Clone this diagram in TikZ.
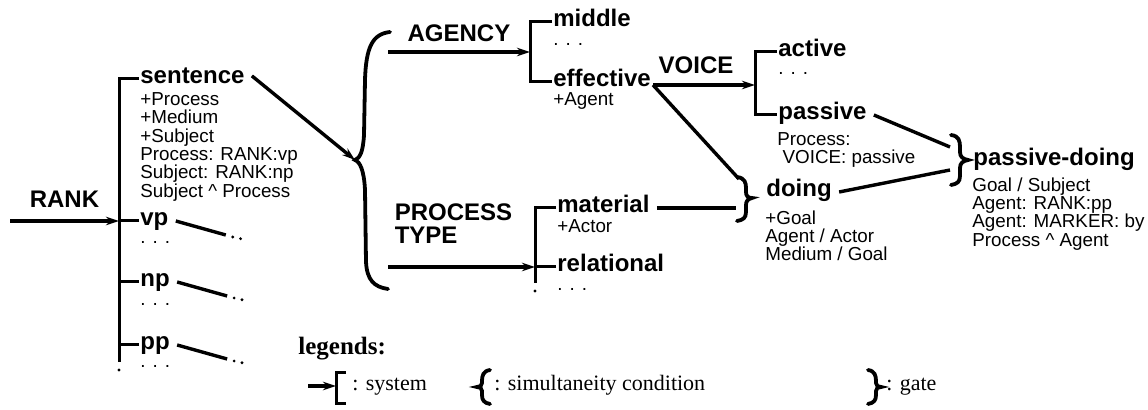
\documentclass[tikz,border=0pt]{standalone}
\usepackage{fontspec}
\setmainfont{Liberation Serif}
\setsansfont{Liberation Sans}
\usetikzlibrary{positioning, arrows.meta}
\newcommand{\labfont}{\sffamily\bfseries\fontsize{12}{11.5}\selectfont}
\newcommand{\subfont}{\sffamily\fontsize{9.4}{9.2}\selectfont}
\tikzset{x=0.5pt, y=-0.5pt, % one unit is one pixel, y grows downwards
>={Stealth[length=6.5pt, width=4.2pt]}, % narrow filled arrow heads
sys/.style={line width=1.5pt}, % the bar of a system
link/.style={line width=1.7pt}, % entry lines and gate lines
brace/.style={line width=1.9pt, line cap=round}, % hand drawn braces
dots/.style={line width=1.6pt, line cap=round, dash pattern=on 0pt off 4pt},
feat/.style={font=\labfont, inner sep=0.5pt, anchor=mid west}, % a feature
sub/.style={font=\subfont, inner sep=0pt, align=left, anchor=north west}, % its realisation
more/.style={font=\subfont, inner sep=0pt, anchor=base west}, % the dots below
sysname/.style={font=\labfont, inner sep=1pt, midway}, % name of a system
legtext/.style={font=\fontsize{11}{13}\selectfont, inner sep=0pt, anchor=base west},
}

\begin{document}
\begin{tikzpicture}
\useasboundingbox (0,0) rectangle (1148,410);

% RANK
\coordinate (rankin) at (10,221);
\coordinate (rankbar) at (119,221);
\coordinate (rankbot) at (119,362);
\node[feat] (sentence) at (139,79) {sentence};
\node[feat] (vp) at (139,221) {vp};
\node[feat] (np) at (139,282) {np};
\node[feat] (pp) at (139,345) {pp};
\node[sub] (sentinfo) at (140,92) {+Process\\+Medium\\+Subject\\Process: RANK:vp\\Subject: RANK:np\\Subject \textasciicircum\ Process};
\node[more] (vpmore) at (140,244) {. . .};
\node[more] (npmore) at (140,306) {. . .};
\node[more] (ppmore) at (140,368) {. . .};

\draw[sys] (sentence.mid west) -| (rankbot);
\draw[dots] ([yshift=-4pt]rankbot) -- ++(0,6);
\draw[sys] (vp.mid west) -- (rankbar);
\draw[sys] (np.mid west) -- (np.mid west -| rankbar);
\draw[sys] (pp.mid west) -- (pp.mid west -| rankbar);
\draw[link,->] (rankin) -- (rankbar) node[sysname, above=5pt] {RANK};

\foreach \r in {vp,np,pp} {
  \draw[link] ([xshift=3pt]\r.mid east) -- ++(50,14) coordinate (\r next);
  \draw[dots] ([shift={(7,2)}]\r next) -- ++(9,2);
}

% simultaneity of AGENCY and PROCESS TYPE
\coordinate (simtip) at (355,160);
\draw[brace] (390,32) .. controls (372,34) and (366,48) .. (365,80) -- (364,135)
  .. controls (363,152) and (360,158) .. (simtip)
  .. controls (360,162) and (364,170) .. (365,190) -- (366,262)
  .. controls (367,280) and (374,287) .. (388,289);
\draw[link,->] ([xshift=3pt]sentence.east) -- (simtip);

% AGENCY
\coordinate (agencyin) at (388,52);
\coordinate (agencybar) at (530,52);
\node[feat] (middle) at (552,22) {middle};
\node[feat] (effective) at (552,82) {effective};
\node[more] (middlemore) at (553,46) {. . .};
\node[sub] (effinfo) at (553,92) {+Agent};
\draw[sys] (middle.mid west) -| (effective.mid west -| agencybar) -- (effective.mid west);
\draw[link,->] (agencyin) -- (agencybar) node[sysname, above=3.5pt] {AGENCY};

% VOICE
\coordinate (effout) at (653,85);
\coordinate (voicebar) at (755,85);
\node[feat] (active) at (777,52) {active};
\node[feat] (passive) at (777,115) {passive};
\node[more] (activemore) at (778,75) {. . .};
\node[sub] (passinfo) at (777,132) {Process:\\\ VOICE: passive};
\draw[sys] (active.mid west) -| (passive.mid west -| voicebar) -- (passive.mid west);
\draw[link,->] (effout) -- (voicebar) node[sysname, above=4pt, xshift=-4pt] {VOICE};

% PROCESS TYPE
\coordinate (ptin) at (388,267);
\coordinate (ptbar) at (535,267);
\coordinate (ptbot) at (535,283);
\node[feat] (material) at (556,208) {material};
\node[feat] (relational) at (556,267) {relational};
\node[sub] (matinfo) at (557,219) {+Actor};
\node[more] (relmore) at (557,291) {. . .};
\draw[sys] (material.mid west) -| (ptbot);
\draw[dots] ([yshift=-4pt]ptbot) -- ++(0,6);
\draw[sys] (relational.mid west) -- (ptbar);
\draw[link,->] (ptin) -- (ptbar) node[sysname, align=left, above=10pt, xshift=-4pt] {PROCESS\\TYPE};

% gate: doing
\coordinate (doingtip) at (752,198);
\coordinate (doingtop) at (739,179);
\coordinate (doinglow) at (736,208);
\draw[brace] (737,177) .. controls (745,178) and (746,183) .. (746,188) -- (746,192)
  .. controls (746,196) and (748,198) .. (doingtip)
  .. controls (748,199) and (746,201) .. (746,205) -- (746,212)
  .. controls (746,218) and (743,220) .. (737,221);
\node[feat] (doing) at (765,192) {doing};
\node[sub] (doinginfo) at (765,210) {+Goal\\Agent / Actor\\Medium / Goal};
\draw[link] (effout) -- (doingtop);
\draw[link] ([xshift=3pt]material.mid east) -- (doinglow);

% gate: passive-doing
\coordinate (pdtip) at (968,160);
\coordinate (pdtop) at (950,147);
\coordinate (pdlow) at (950,170);
\draw[brace] (951,135) .. controls (959,136) and (960,141) .. (960,147) -- (960,152)
  .. controls (960,157) and (963,159) .. (pdtip)
  .. controls (963,161) and (960,163) .. (960,168) -- (960,176)
  .. controls (960,182) and (957,184) .. (951,185);
\node[feat] (pdoing) at (972,161) {passive-doing};
\node[sub] (pdinfo) at (972,177) {Goal / Subject\\Agent: RANK:pp\\Agent: MARKER: by\\Process \textasciicircum\ Agent};
\draw[link] ([xshift=3pt]passive.mid east) -- (pdtop);
\draw[link] ([xshift=3pt]doing.mid east) -- (pdlow);

% legends
\node[font=\bfseries\fontsize{12.5}{14}\selectfont, inner sep=0pt, anchor=base west] (legends) at (298,355) {legends:};
\coordinate (legin) at (308,386);
\coordinate (legbar) at (336,386);
\draw[link,->] (legin) -- (legbar);
\draw[sys] (346,373) -| (336,404) -- (346,404);
\node[legtext] (legsys) at (352,391) {: system};
\draw[brace] (490,370) .. controls (483,371) and (482,376) .. (482,381) -- (482,383)
  .. controls (482,386) and (480,387) .. (477,387)
  .. controls (480,387) and (482,388) .. (482,391) -- (482,395)
  .. controls (482,400) and (484,403) .. (490,404);
\node[legtext] (legsim) at (494,391) {: simultaneity condition};
\draw[brace] (868,370) .. controls (875,371) and (876,376) .. (876,381) -- (876,383)
  .. controls (876,386) and (878,387) .. (881,387)
  .. controls (878,387) and (876,388) .. (876,391) -- (876,395)
  .. controls (876,400) and (874,403) .. (868,404);
\node[legtext] (leggate) at (886,391) {: gate};
\end{tikzpicture}
\end{document}
